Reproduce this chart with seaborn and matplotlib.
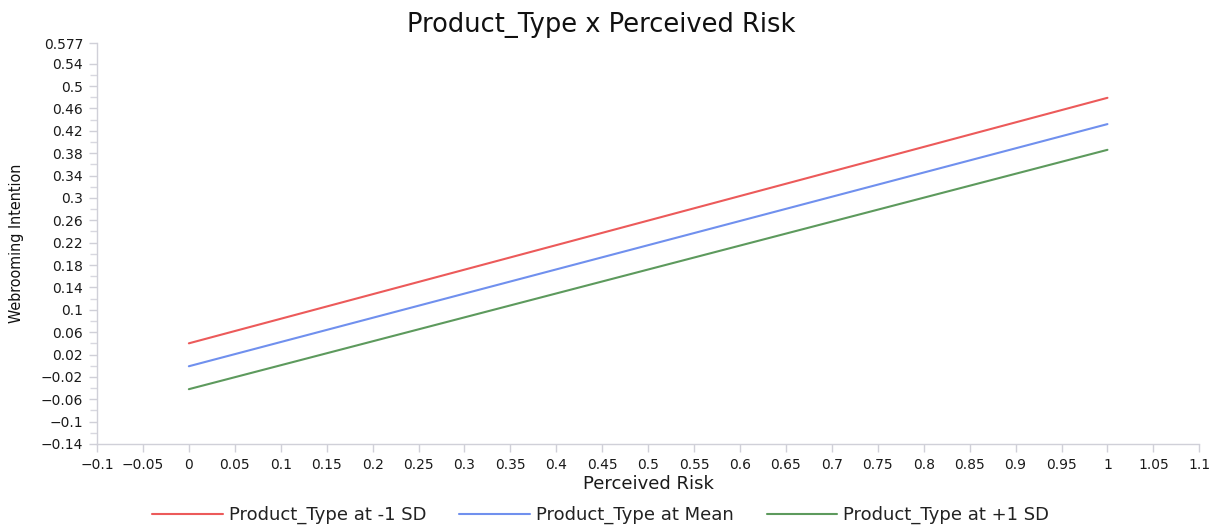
import numpy as np
import pandas as pd
import matplotlib
matplotlib.use("Agg")
import matplotlib.pyplot as plt
import seaborn as sns
from matplotlib.ticker import FixedLocator
from matplotlib.lines import Line2D

# Data
perceived_risk = [0.0, 1.0]
series_names = ["Product_Type at -1 SD", "Product_Type at Mean", "Product_Type at +1 SD"]
minus_sd = [0.040, 0.479]
at_mean = [-0.001, 0.432]
plus_sd = [-0.042, 0.386]
colors = ["#ec5a5a", "#7090ee", "#5d9a5d"]

x_ticks = [-0.1, -0.05, 0, 0.05, 0.1, 0.15, 0.2, 0.25, 0.3, 0.35, 0.4, 0.45, 0.5, 0.55,
           0.6, 0.65, 0.7, 0.75, 0.8, 0.85, 0.9, 0.95, 1, 1.05, 1.1]
x_labels = ["\u22120.1", "\u22120.05", "0", "0.05", "0.1", "0.15", "0.2", "0.25", "0.3", "0.35", "0.4",
            "0.45", "0.5", "0.55", "0.6", "0.65", "0.7", "0.75", "0.8", "0.85", "0.9", "0.95",
            "1", "1.05", "1.1"]
y_ticks = [-0.14, -0.1, -0.06, -0.02, 0.02, 0.06, 0.1, 0.14, 0.18, 0.22, 0.26, 0.3, 0.34,
           0.38, 0.42, 0.46, 0.5, 0.54, 0.577]
y_labels = ["\u22120.14", "\u22120.1", "\u22120.06", "\u22120.02", "0.02", "0.06", "0.1", "0.14",
            "0.18", "0.22", "0.26", "0.3", "0.34", "0.38", "0.42", "0.46", "0.5", "0.54", "0.577"]

df = pd.DataFrame({
    "Perceived Risk": perceived_risk * 3,
    "Webrooming Intention": minus_sd + at_mean + plus_sd,
    "series": [series_names[0]] * 2 + [series_names[1]] * 2 + [series_names[2]] * 2,
})

sns.set_style("white")
plt.rcParams["font.family"] = ["DejaVu Sans"]

fig = plt.figure(figsize=(12.14, 5.29), dpi=100)
ax = fig.add_axes([0.0799, 0.1607, 0.908, 0.758])

sns.lineplot(data=df, x="Perceived Risk", y="Webrooming Intention", hue="series",
             palette=colors, hue_order=series_names, linewidth=1.5, ax=ax, legend=False)

ax.set_xlim(-0.1, 1.1)
ax.set_ylim(-0.14, 0.577)
ax.set_xticks(x_ticks)
ax.set_xticklabels(x_labels, fontsize=10, color="#1a1a1a")
ax.set_yticks(y_ticks)
ax.set_yticklabels(y_labels, fontsize=10, color="#1a1a1a")
minor = [(a + b) / 2 for a, b in zip(y_ticks[:-2], y_ticks[1:-1])]
ax.yaxis.set_minor_locator(FixedLocator(minor))
ax.tick_params(axis="both", which="major", length=6, color="#d0d0d8", width=1, pad=4)
ax.tick_params(axis="y", which="minor", length=5, color="#d8d8e0", width=1, left=True)
ax.tick_params(axis="x", which="major", bottom=True)
ax.tick_params(axis="y", which="major", left=True)

for s in ["top", "right"]:
    ax.spines[s].set_visible(False)
for s in ["left", "bottom"]:
    ax.spines[s].set_color("#d0d0d8")
    ax.spines[s].set_linewidth(1)

ax.set_xlabel("Perceived Risk", fontsize=13, color="#1a1a1a", labelpad=2)
ax.set_ylabel("Webrooming Intention", fontsize=11.5, color="#111111",
              family=["Liberation Sans Narrow", "DejaVu Sans"], fontstretch="condensed")
ax.yaxis.set_label_coords(-0.066, 0.5)
fig.suptitle("Product_Type x Perceived Risk", fontsize=18.5, color="#111111",
             x=0.495, y=0.978, va="top")

handles = [Line2D([0], [0], color=c, lw=1.5) for c in colors]
fig.legend(handles, series_names, loc="lower center", bbox_to_anchor=(0.495, -0.022),
           ncol=3, frameon=False, fontsize=13, handlelength=3.93, columnspacing=1.8,
           handletextpad=0.33, labelcolor="#222222")

fig.savefig("out.png", dpi=100)
